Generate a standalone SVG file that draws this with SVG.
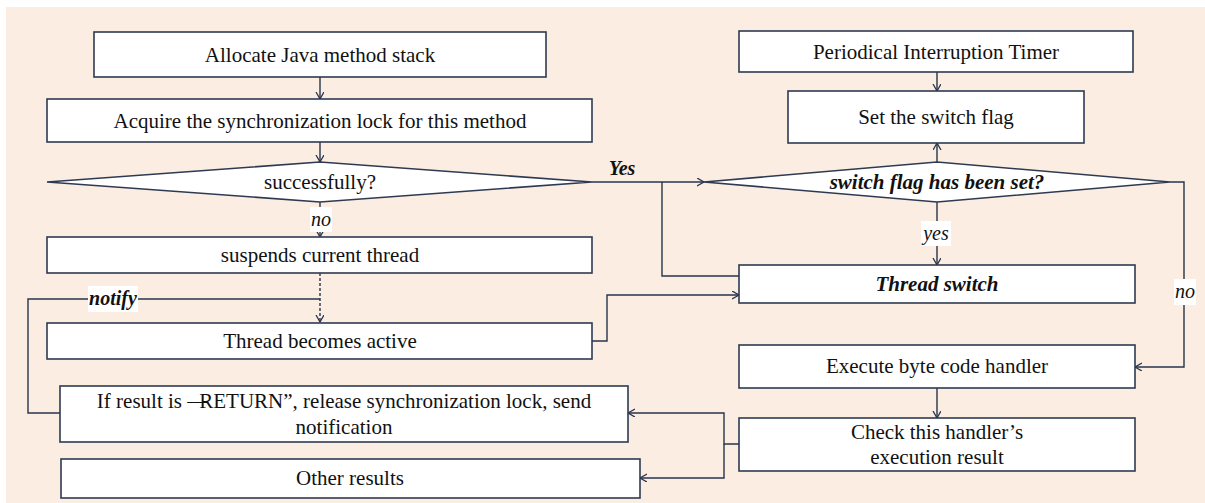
<svg xmlns="http://www.w3.org/2000/svg" width="1205" height="503" viewBox="0 0 1205 503">
<style>
.box{fill:#fff;stroke:#2D3A52;stroke-width:1.6}
.t{font-family:"Liberation Serif","Times New Roman",serif;font-size:21px;fill:#111;text-anchor:middle}
.bi{font-weight:bold;font-style:italic}
.it{font-style:italic}
.lbl{font-family:"Liberation Serif","Times New Roman",serif;font-size:20px;fill:#111;text-anchor:middle}
.c{fill:none;stroke:#27344C;stroke-width:1.4}
.dash{stroke-dasharray:3,2}
.wb{fill:#fff;stroke:none}
</style>
<defs>
<marker id="ah" markerUnits="userSpaceOnUse" markerWidth="10" markerHeight="10" refX="7" refY="4" orient="auto">
<path d="M0,0 L7,4 L0,8" fill="none" stroke="#27344C" stroke-width="1.3"/>
</marker>
</defs>
<rect x="6" y="7" width="1199" height="496" fill="#FCEDE2"/>

<g id="connectors">
<path class="c" d="M320,77 V99" marker-end="url(#ah)"/>
<path class="c" d="M320,142 V162" marker-end="url(#ah)"/>
<path class="c" d="M320,202 V237" marker-end="url(#ah)"/>
<path class="c dash" d="M320,273 V322" marker-end="url(#ah)"/>
<path class="c" d="M60,413 H28 V299 H320"/>
<path class="c" d="M592,341 H607 V295 H739" marker-end="url(#ah)"/>
<path class="c" d="M592,182 H704" marker-end="url(#ah)"/>
<path class="c" d="M739,276 H662 V182"/>
<path class="c" d="M937,72 V91" marker-end="url(#ah)"/>
<path class="c" d="M937,162 V143" marker-end="url(#ah)"/>
<path class="c" d="M937,202 V265" marker-end="url(#ah)"/>
<path class="c" d="M1170,182 H1184 V367 H1135" marker-end="url(#ah)"/>
<path class="c" d="M937,388 V418" marker-end="url(#ah)"/>
<path class="c" d="M739,444 H724 V413 H628" marker-end="url(#ah)"/>
<path class="c" d="M724,444 V478 H640" marker-end="url(#ah)"/>
<rect class="wb" x="310" y="207" width="22" height="25"/>
<text class="lbl it" x="321" y="226">no</text>
<rect class="wb" x="88" y="286" width="50" height="26"/>
<text class="lbl bi" x="113" y="305">notify</text>
<text class="lbl bi" x="622" y="175">Yes</text>
<rect class="wb" x="921" y="221" width="30" height="25"/>
<text class="lbl it" x="936" y="240">yes</text>
<rect class="wb" x="1174" y="279" width="22" height="26"/>
<text class="lbl it" x="1185" y="298">no</text>
</g>

<g id="n1"><rect class="box" x="94" y="32" width="452" height="45"/><text class="t" x="320" y="62">Allocate Java method stack</text></g>
<g id="n2"><rect class="box" x="47" y="99" width="545" height="43"/><text class="t" x="320" y="128">Acquire the synchronization lock for this method</text></g>
<g id="n3"><polygon class="box" points="47,182 320,162 592,182 320,202"/><text class="t" x="320" y="189">successfully?</text></g>
<g id="n4"><rect class="box" x="47" y="237" width="545" height="36"/><text class="t" x="320" y="262">suspends current thread</text></g>
<g id="n5"><rect class="box" x="47" y="323" width="545" height="36"/><text class="t" x="320" y="348">Thread becomes active</text></g>
<g id="n6"><rect class="box" x="60" y="386" width="568" height="56"/><text class="t" x="344" y="408">If result is ―<tspan dx="-9">RETURN”, release synchronization lock, send</tspan></text><text class="t" x="344" y="434">notification</text></g>
<g id="n7"><rect class="box" x="61" y="459" width="579" height="39"/><text class="t" x="350" y="485">Other results</text></g>
<g id="n8"><rect class="box" x="739" y="31" width="394" height="41"/><text class="t" x="936" y="59">Periodical Interruption Timer</text></g>
<g id="n9"><rect class="box" x="788" y="91" width="296" height="52"/><text class="t" x="936" y="124">Set the switch flag</text></g>
<g id="n10"><polygon class="box" points="704,182 937,162 1170,182 937,202"/><text class="t bi" x="937" y="189" font-size="20">switch flag has been set?</text></g>
<g id="n11"><rect class="box" x="739" y="265" width="396" height="38"/><text class="t bi" x="937" y="291" font-size="20">Thread switch</text></g>
<g id="n12"><rect class="box" x="739" y="345" width="396" height="43"/><text class="t" x="937" y="373">Execute byte code handler</text></g>
<g id="n13"><rect class="box" x="739" y="418" width="396" height="53"/><text class="t" x="937" y="439">Check this handler’s</text><text class="t" x="937" y="464">execution result</text></g>
</svg>
